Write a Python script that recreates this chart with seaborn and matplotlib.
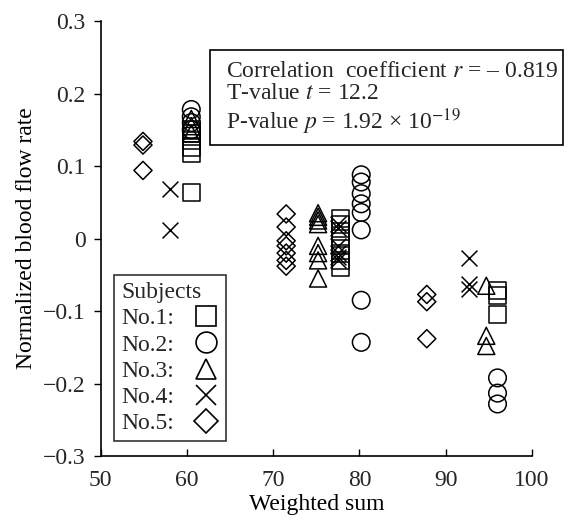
import numpy as np
import pandas as pd
import matplotlib
matplotlib.use("Agg")
import matplotlib.pyplot as plt
import seaborn as sns
from matplotlib.lines import Line2D
from matplotlib.patches import Rectangle

# values
no1_x = [60.5, 60.5, 60.5, 60.5, 60.5, 60.5,
         77.8, 77.8, 77.8, 77.8, 77.8, 77.8, 77.8, 77.8,
         96.0, 96.0, 96.0]
no1_y = [0.150, 0.145, 0.135, 0.125, 0.118, 0.064,
         0.028, 0.020, 0.010, 0.000, -0.010, -0.020, -0.030, -0.040,
         -0.072, -0.078, -0.105]

no2_x = [60.5, 60.5, 60.5, 60.5,
         80.2, 80.2, 80.2, 80.2, 80.2, 80.2, 80.2, 80.2,
         96.0, 96.0, 96.0]
no2_y = [0.178, 0.168, 0.160, 0.150,
         0.088, 0.078, 0.062, 0.048, 0.036, 0.012, -0.085, -0.143,
         -0.192, -0.213, -0.228]

no3_x = [60.5, 60.5, 60.5,
         75.2, 75.2, 75.2, 75.2, 75.2, 75.2, 75.2, 75.2,
         94.7, 94.7, 94.7]
no3_y = [0.165, 0.155, 0.145,
         0.035, 0.030, 0.025, 0.020, -0.010, -0.020, -0.030, -0.055,
         -0.065, -0.134, -0.148]

no4_x = [58.0, 58.0,
         77.5, 77.5, 77.5, 77.5, 77.5, 77.5,
         92.7, 92.7, 92.7]
no4_y = [0.068, 0.012,
         0.020, 0.015, -0.010, -0.020, -0.025, -0.030,
         -0.027, -0.062, -0.070]

no5_x = [54.9, 54.9, 54.9,
         71.5, 71.5, 71.5, 71.5, 71.5, 71.5, 71.5,
         87.8, 87.8, 87.8]
no5_y = [0.134, 0.129, 0.094,
         0.034, 0.016, -0.003, -0.010, -0.020, -0.030, -0.038,
         -0.077, -0.087, -0.138]

subjects = ["No.1:", "No.2:", "No.3:", "No.4:", "No.5:"]
markers = ["s", "o", "^", "x", "D"]
sizes = [150, 160, 150, 130, 85]

yticks = [-0.3, -0.2, -0.1, 0, 0.1, 0.2, 0.3]
ytick_labels = ["\u22120.3", "\u22120.2", "\u22120.1", "0", "0.1", "0.2", "0.3"]
xticks = [50, 60, 70, 80, 90, 100]

sns.set_theme(style="white")
plt.rcParams["font.family"] = ["Liberation Serif", "DejaVu Serif"]
plt.rcParams["mathtext.fontset"] = "stix"

xs = [no1_x, no2_x, no3_x, no4_x, no5_x]
ys = [no1_y, no2_y, no3_y, no4_y, no5_y]
frames = [pd.DataFrame({"x": a, "y": b}) for a, b in zip(xs, ys)]

fig = plt.figure(figsize=(5.69, 5.25), dpi=100)
ax = fig.add_axes([0.177, 0.131, 0.758, 0.829])

for df, m, s in zip(frames, markers, sizes):
    if m == "x":
        sns.scatterplot(data=df, x="x", y="y", marker=m, s=s, color="black",
                        linewidth=1.1, ax=ax)
    else:
        sns.scatterplot(data=df, x="x", y="y", marker=m, s=s, facecolor="none",
                        edgecolor="black", linewidth=1.1, ax=ax)

fs = 17
ax.set_xlim(50, 100)
ax.set_ylim(-0.3, 0.3)
ax.set_xticks(xticks)
ax.set_yticks(yticks)
ax.set_yticklabels(ytick_labels)
ax.tick_params(axis="x", direction="in", length=5, width=1, labelsize=fs, pad=10,
               color="black", bottom=True)
ax.tick_params(axis="y", direction="out", length=5, width=1, labelsize=fs, pad=6,
               color="black", left=True)
for side in ["top", "right"]:
    ax.spines[side].set_visible(False)
for side in ["left", "bottom"]:
    ax.spines[side].set_color("black")
    ax.spines[side].set_linewidth(1.2)
ax.set_xlabel("Weighted sum", fontsize=fs, labelpad=2, color="black")
ax.set_ylabel("Normalized blood flow rate", fontsize=fs, labelpad=4, color="black")

handles = [Line2D([], [], linestyle="none", marker=m, markersize=(15 if m != "D" else 12.5),
                  markerfacecolor="none", markeredgecolor="black", markeredgewidth=1.2,
                  color="black")
           for m in markers]
leg = ax.legend(handles, subjects, title="Subjects", loc="lower left",
                bbox_to_anchor=(0.031, 0.034), markerfirst=False, frameon=True,
                fancybox=False, edgecolor="black", fontsize=fs, title_fontsize=fs,
                alignment="left", handlelength=1.1, handletextpad=0.8,
                labelspacing=0.2, borderpad=0.3, borderaxespad=0)
leg.get_frame().set_linewidth(1.2)

# statistics box
fig.patches.append(Rectangle((210 / 569, 1 - 145 / 525), 353 / 569, 95 / 525,
                             transform=fig.transFigure, facecolor="white",
                             edgecolor="black", linewidth=1.2, zorder=5))
fig.text(226 / 569, 1 - 99 / 525,
         "Correlation  coefficient $r$ = \u2013 0.819\nT-value $t$ = 12.2\n"
         "P-value $p$ = 1.92 \u00d7 10$^{\u221219}$",
         fontsize=fs, va="center", ha="left", linespacing=1.1, zorder=6)

fig.savefig("out.png", dpi=100)
